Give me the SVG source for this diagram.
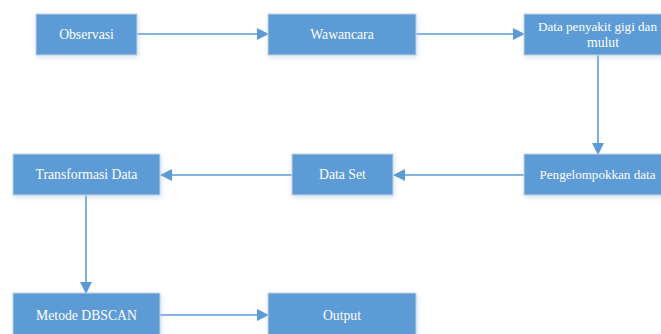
<svg xmlns="http://www.w3.org/2000/svg" width="661" height="334" viewBox="0 0 661 334">
<defs>
<filter id="sh" x="-20%" y="-30%" width="140%" height="160%">
<feGaussianBlur in="SourceAlpha" stdDeviation="2.5"/>
<feOffset dx="1" dy="2" result="b"/>
<feFlood flood-color="#9dc3e6" flood-opacity="0.45"/>
<feComposite in2="b" operator="in"/>
<feMerge><feMergeNode/><feMergeNode in="SourceGraphic"/></feMerge>
</filter>
<marker id="ah" markerWidth="12" markerHeight="12" refX="11" refY="6" orient="auto" markerUnits="userSpaceOnUse">
<path d="M0,0 L12,6 L0,12 Z" fill="#5b9bd5"/>
</marker>
</defs>
<style>
.box{fill:#5b9bd5;stroke:#c9d3dd;stroke-width:1;filter:url(#sh)}
.t{font-family:"Liberation Serif","Times New Roman",serif;font-size:13.7px;fill:#ffffff;text-anchor:middle}
.s{font-size:13.1px}
.c{stroke:#5b9bd5;stroke-width:1.6;fill:none;marker-end:url(#ah)}
</style>
<rect width="661" height="334" fill="#ffffff"/>
<g id="connectors">
<line class="c" x1="137" y1="34" x2="268" y2="34"/>
<line class="c" x1="416" y1="34" x2="524" y2="34"/>
<line class="c" x1="598" y1="55" x2="598" y2="154"/>
<line class="c" x1="524" y1="175" x2="394" y2="175"/>
<line class="c" x1="292" y1="175" x2="161" y2="175"/>
<line class="c" x1="86" y1="195" x2="86" y2="293"/>
<line class="c" x1="160" y1="315" x2="268" y2="315"/>
</g>
<g id="observasi"><rect class="box" x="36" y="14" width="101" height="41"/><text class="t" x="86.5" y="39">Observasi</text></g>
<g id="wawancara"><rect class="box" x="268" y="14" width="148" height="41"/><text class="t" x="342" y="39">Wawancara</text></g>
<g id="data-penyakit"><rect class="box" x="524" y="14" width="158" height="41"/><text class="t s" x="597.5" y="31">Data penyakit gigi dan</text><text class="t" x="603" y="47">mulut</text></g>
<g id="pengelompokkan"><rect class="box" x="524" y="154" width="158" height="41"/><text class="t s" x="597.5" y="179">Pengelompokkan data</text></g>
<g id="data-set"><rect class="box" x="292" y="154" width="101" height="41"/><text class="t" x="342.5" y="179">Data Set</text></g>
<g id="transformasi"><rect class="box" x="13" y="154" width="147" height="41"/><text class="t" x="86.5" y="179">Transformasi Data</text></g>
<g id="dbscan"><rect class="box" x="13" y="293" width="147" height="45"/><text class="t" x="86.5" y="320">Metode DBSCAN</text></g>
<g id="output"><rect class="box" x="268" y="293" width="148" height="45"/><text class="t" x="342" y="320">Output</text></g>
</svg>
